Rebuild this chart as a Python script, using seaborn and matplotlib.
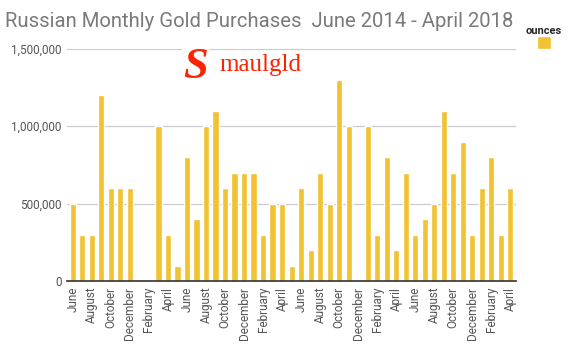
import matplotlib
matplotlib.use('Agg')
import matplotlib.pyplot as plt
from matplotlib.patches import Patch
import seaborn as sns
import pandas as pd

# Monthly purchases, June 2014 - April 2018 (ounces)
months = ['June', 'July', 'August', 'September', 'October', 'November', 'December',
          'January', 'February', 'March', 'April', 'May', 'June', 'July', 'August',
          'September', 'October', 'November', 'December',
          'January', 'February', 'March', 'April', 'May', 'June', 'July', 'August',
          'September', 'October', 'November', 'December',
          'January', 'February', 'March', 'April', 'May', 'June', 'July', 'August',
          'September', 'October', 'November', 'December',
          'January', 'February', 'March', 'April']
ounces = [500000, 300000, 300000, 1200000, 600000, 600000, 600000,
          0, 0, 1000000, 300000, 100000, 800000, 400000, 1000000,
          1100000, 600000, 700000, 700000,
          700000, 300000, 500000, 500000, 100000, 600000, 200000, 700000,
          500000, 1300000, 1000000, 0,
          1000000, 300000, 800000, 200000, 700000, 300000, 400000, 500000,
          1100000, 700000, 900000, 300000,
          600000, 800000, 300000, 600000]
yticks = [0, 500000, 1000000, 1500000]

data = pd.DataFrame({'idx': range(len(months)), 'month': months, 'ounces': ounces})

sns.set_style('white')
plt.rcParams['font.family'] = ['Roboto', 'DejaVu Sans']

fig = plt.figure(figsize=(5.69, 3.54), dpi=100)
ax = fig.add_axes([0.118, 0.206, 0.789, 0.656])

bar_color = '#f1c232'
sns.barplot(x='idx', y='ounces', data=data, color=bar_color, width=0.65,
            saturation=1, ax=ax)

ax.set_ylim(0, 1500000)
ax.set_yticks(yticks)
ax.set_yticklabels([f'{v:,}' for v in yticks], color='#555555', fontsize=8.5)
ax.yaxis.grid(True, color='#cccccc', linewidth=0.9)
ax.set_axisbelow(True)

ax.set_xticks(data['idx'][::2])
ax.set_xticklabels(data['month'][::2], rotation=90, color='#555555', fontsize=8.5)
ax.set_xlim(-0.6, len(months) - 0.4)
ax.tick_params(axis='both', length=0, pad=4)

for s in ['top', 'right', 'left']:
    ax.spines[s].set_visible(False)
ax.spines['bottom'].set_color('#333333')
ax.spines['bottom'].set_linewidth(1.2)
ax.set_xlabel('')
ax.set_ylabel('')

fig.text(0.009, 0.94, 'Russian Monthly Gold Purchases  June 2014 - April 2018',
         fontsize=14.6, color='#7a7a7a', va='center', ha='left')

# logo
fig.text(0.322, 0.81, 'S', fontsize=32, fontweight='bold', fontstyle='italic',
         family='Liberation Serif', color='#ff2200', va='center', ha='left',
         bbox=dict(facecolor='white', edgecolor='none', pad=1))
fig.text(0.385, 0.815, 'maulgld', fontsize=18, family='Liberation Serif',
         color='#ff2200', va='center', ha='left',
         bbox=dict(facecolor='white', edgecolor='none', pad=2))

leg = ax.legend(handles=[Patch(facecolor=bar_color)], labels=[''], title='ounces',
                loc='upper left', bbox_to_anchor=(0.912, 0.945),
                bbox_transform=fig.transFigure, frameon=False,
                handlelength=1.0, handleheight=1.0, borderpad=0, handletextpad=0,
                labelspacing=0)
leg.get_title().set_fontweight('bold')
leg.get_title().set_fontsize(8)

fig.savefig('out.png', dpi=100)
